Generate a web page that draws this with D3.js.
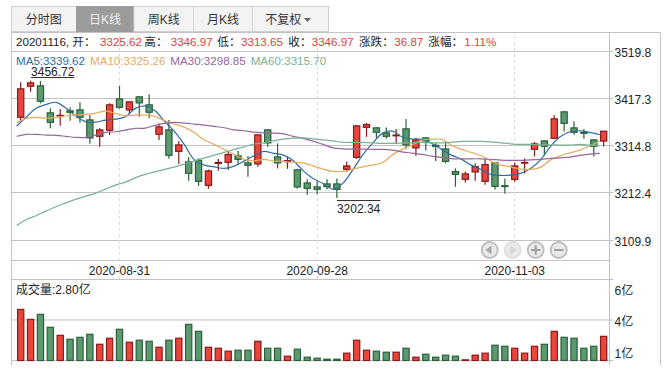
<!DOCTYPE html>
<html lang="zh-CN">
<head>
<meta charset="utf-8">
<script src="https://cdn.jsdelivr.net/npm/d3@7"></script>
<style>
  html, body { margin: 0; padding: 0; background: #fff; }
  svg { display: block; }
  text { font-family: 'Liberation Sans', 'Noto Sans CJK SC', sans-serif; font-size: 12px; }
  .small text { font-size: 11.6px; }
</style>
</head>
<body>
<div id="chart"></div>
<script>
// 60 trading days up to 2020-11-16
const dates = ['2020-08-17','2020-08-18','2020-08-19','2020-08-20','2020-08-21','2020-08-24','2020-08-25','2020-08-26','2020-08-27','2020-08-28',
  '2020-08-31','2020-09-01','2020-09-02','2020-09-03','2020-09-04','2020-09-07','2020-09-08','2020-09-09','2020-09-10','2020-09-11',
  '2020-09-14','2020-09-15','2020-09-16','2020-09-17','2020-09-18','2020-09-21','2020-09-22','2020-09-23','2020-09-24','2020-09-25',
  '2020-09-28','2020-09-29','2020-09-30','2020-10-09','2020-10-12','2020-10-13','2020-10-14','2020-10-15','2020-10-16','2020-10-19',
  '2020-10-20','2020-10-21','2020-10-22','2020-10-23','2020-10-26','2020-10-27','2020-10-28','2020-10-29','2020-10-30','2020-11-02',
  '2020-11-03','2020-11-04','2020-11-05','2020-11-06','2020-11-09','2020-11-10','2020-11-11','2020-11-12','2020-11-13','2020-11-16'];

const opens = [3377.2,3444.5,3445.3,3386.7,3379.8,3391,3393.2,3371.5,3335.9,3348.9,
  3417.1,3393.2,3421.4,3404.1,3340.3,3349.8,3303.3,3280.3,3283.8,3229.5,
  3277.1,3279.5,3293.4,3278.2,3276,3349.8,3291.2,3281,3263,3234.7,
  3226.1,3232.6,3232.6,3264.3,3290.3,3355.4,3354.1,3343.3,3337,3352,
  3310.7,3332.4,3316.2,3308.5,3259.3,3242.6,3258.6,3238.2,3278.2,3228.7,
  3242.6,3277.7,3307.7,3325.9,3331.6,3388.9,3354.1,3344.6,3328.1,3325.62];
const closes = [3438.8,3451.8,3411.9,3366.3,3381.3,3388,3377.2,3332.4,3349.8,3404.1,
  3398.9,3410.6,3408.4,3388,3356.3,3294.7,3317.2,3255.6,3238.2,3260.8,
  3279.2,3296.2,3286,3273,3339,3321.6,3278.2,3283.1,3226.1,3223,
  3220.9,3226.7,3220.9,3271.6,3358.5,3361.3,3344.6,3335.9,3338.5,3317.2,
  3328.1,3325.9,3314.2,3281.6,3253.4,3254.3,3270.1,3274.5,3227.4,3226.9,
  3271.6,3279.2,3319.4,3314.2,3373.7,3364.1,3344.6,3342.4,3314.2,3346.97];
const highs = [3452.9,3456.72,3455.7,3396.5,3395,3398.6,3409.5,3381.9,3353.1,3407.3,
  3444.9,3411.7,3422.5,3426.9,3363.9,3371.1,3325.5,3290.8,3287.9,3264,
  3286.4,3301.6,3303.8,3292.9,3340,3350.9,3320.5,3291.4,3265.4,3242.3,
  3238.6,3243,3244.5,3281.4,3360.2,3364.6,3355.9,3355.2,3351.5,3373.2,
  3332,3334.2,3321.1,3326.1,3266.2,3259.7,3277.1,3287.9,3279.2,3244.5,
  3279.2,3287.9,3323.3,3327,3381.3,3390,3368.3,3351.5,3329.2,3346.97];
const lows = [3371.1,3432.5,3407.3,3353.1,3358.7,3369.6,3365.2,3319.6,3313.1,3338.5,
  3395.6,3383.5,3378.2,3374.8,3327.7,3287.1,3275.6,3239.3,3228.4,3221.9,
  3261,3263.2,3273.4,3248,3269.7,3313.1,3266.2,3265.4,3221.9,3208.9,
  3210.4,3220.6,3202.34,3258.8,3286.4,3334.8,3332.6,3330.5,3319.6,3308.8,
  3293.6,3305.3,3282.1,3277.1,3226.3,3235.8,3239.3,3230.6,3220.6,3211.1,
  3237.1,3255.4,3292.3,3294.4,3330.5,3346.5,3339.2,3330.5,3292.3,3313.65];
// volume, in 亿
const volumes = [5.92,4.77,5.35,3.85,2.92,2.46,2.69,3.04,1.88,2.58,
  3.62,2.12,2.35,2.23,1.54,2.35,2.58,4.19,3.38,1.54,
  1.42,1.08,1.19,1.19,2.23,1.42,1.42,0.5,1.31,0.38,
  0.27,0.15,0.15,0.85,2.35,1.19,1.08,0.96,0.96,1.42,
  0.38,0.73,0.38,0.62,0.5,0.08,0.62,0.85,1.77,1.65,
  1.42,0.85,1.65,1.88,3.38,2.69,2.58,1.42,1.65,2.8];

const ma5 = [3358.1,3378.2,3397.1,3405.2,3409.5,3396.5,3379.8,3367.4,3366.7,3371.1,
  3373.2,3378.2,3396.5,3401.5,3391.3,3367.4,3345.7,3316.8,3284.2,3273.4,
  3269.7,3266.2,3271.2,3282.1,3293.6,3303.1,3298.8,3295.1,3282.7,3261,
  3244.5,3233.7,3221.3,3233.7,3262.5,3295.1,3320.5,3342.2,3347.2,3334.8,
  3329.8,3329.2,3320.5,3307.5,3295.1,3286.4,3273.4,3264,3253.2,3251,
  3251.7,3255.4,3266.2,3284.2,3313.1,3334.8,3345.7,3347.9,3344.4,3339.62];
const ma10 = [3365.2,3374.8,3376.9,3374.8,3376.9,3380.4,3381.9,3383.5,3386.3,3390.6,
  3385.6,3380.4,3381.9,3381.9,3379.1,3369.6,3362.4,3355.2,3343.5,3327.7,
  3318.3,3307.5,3296.6,3286.4,3282.7,3285.8,3282.1,3281.4,3279.2,3277.7,
  3271.9,3264.7,3259.7,3259.7,3264,3269.7,3273.4,3278.4,3295.1,3307.5,
  3316.8,3327.7,3329.2,3329.2,3316.8,3307.5,3300.9,3293.6,3282.1,3273.4,
  3269.7,3264.7,3264,3268.4,3284.2,3293.6,3300.1,3306,3315.3,3325.26];
const ma30 = [3335.7,3340,3340,3338.5,3337.9,3335.7,3333.5,3333.5,3338.5,3344.4,
  3345.7,3349.4,3353.1,3353.7,3359.6,3363.9,3366.1,3364.6,3362.4,3360.2,
  3357.4,3354.4,3350,3347.9,3345,3343.5,3342.9,3341.3,3335.7,3331.4,
  3325.5,3318.3,3310.9,3308.8,3308.1,3308.1,3307.5,3307.5,3306,3302.3,
  3299.4,3296.6,3292.9,3290.1,3287.5,3287.1,3287.1,3287.1,3285.8,3284.2,
  3283.6,3283.6,3284.9,3285.8,3287.9,3289.2,3290.8,3294.4,3297.3,3298.85];
const ma60 = [3142.5,3155.5,3164.2,3174.2,3183.7,3191.5,3199.6,3206.1,3212.6,3221.3,
  3230,3236.5,3245.8,3253.2,3258.8,3264,3269.7,3275.6,3282.7,3289.2,
  3295.1,3300.9,3307.5,3313.1,3319,3321.8,3326.1,3329.8,3332,3332.6,
  3330.5,3328.3,3326.1,3322.7,3322.7,3322.7,3321.8,3320.5,3320.5,3321.2,
  3321.8,3322.7,3321.8,3321.8,3322.7,3324.8,3324.8,3324.8,3324,3321.8,
  3319.6,3318.3,3318.3,3317.4,3317.4,3316.8,3316.8,3318.3,3316.8,3315.7];

const priceTicks = [3519.8, 3417.3, 3314.8, 3212.4, 3109.9];
const dateTicks = ['2020-08-31', '2020-09-28', '2020-11-03'];
// the labels on the volume axis are rounded by the source, so positions and text differ
const volGrid = [9.39, 4.7, 0];
const volTicks = [8.25, 4.7, 1];
const volLabels = ['6亿', '4亿', '1亿'];

const tabNames = ['分时图', '日K线', '周K线', '月K线', '不复权'];
const maNames = ['MA5', 'MA10', 'MA30', 'MA60'];
const maSeries = [ma5, ma10, ma30, ma60];
const highLabel = '3456.72';
const lowLabel = '3202.34';

const width = 671;
const height = 373;
const plot = { left: 11.5, right: 609.5, top: 32.5, bottom: 360.5 };

const RED = '#e8463c', RED_DARK = '#871a1a';
const GREEN = '#5b9a70', GREEN_DARK = '#2a5f38';
const GRID = '#c2c2c2';
const MA_COLORS = ['#2f6ca3', '#e6ac5e', '#97669f', '#79b193'];

const svg = d3.select('#chart')
  .append('svg')
  .attr('width', width)
  .attr('height', height);

// Scales
const x = d3.scaleBand()
  .domain(d3.range(dates.length))
  .range([15.76, 608.6])
  .paddingInner(0.37)
  .paddingOuter(0.185);
const center = i => x(i) + x.bandwidth() / 2;

const y = d3.scaleLinear()
  .domain([3109.9, 3519.8])
  .range([240.5, 51.5]);

const yVol = d3.scaleLinear()
  .domain([0, 9.39])
  .range([360.5, 279.5]);

// Tabs
const tabEdges = [11.5, 76, 134, 193.5, 252.5, 328.5];
const tabs = svg.append('g');
tabs.append('rect')
  .attr('x', 11.5).attr('y', 6.5)
  .attr('width', 317).attr('height', 25)
  .attr('fill', '#f3f3f3').attr('stroke', '#cfcfcf');
tabs.selectAll('.tab')
  .data(tabNames)
  .join('g')
  .attr('class', 'tab')
  .each(function (d, i) {
    const g = d3.select(this);
    const a = tabEdges[i], b = tabEdges[i + 1];
    if (i === 1) {
      g.append('rect').attr('x', a).attr('y', 6).attr('width', b - a).attr('height', 26).attr('fill', '#9b9b9b');
    } else if (i > 1) {
      g.append('line').attr('x1', a).attr('x2', a).attr('y1', 6).attr('y2', 32).attr('stroke', '#d4d4d4');
    }
    g.append('text')
      .attr('x', i === 4 ? 283.3 : (a + b) / 2)
      .attr('y', 24.3)
      .attr('text-anchor', 'middle')
      .attr('fill', i === 1 ? '#eeeeee' : '#333')
      .text(d);
  });
tabs.append('path').attr('d', 'M304 18L311 18L307.5 22Z').attr('fill', '#666');

// Frame
const frame = svg.append('g').attr('stroke', GRID).attr('fill', 'none');
frame.append('path').attr('d', `M${plot.left} 365V${plot.top}H660.5V365`);
frame.append('path').attr('d', `M${plot.right} ${plot.top}V365`);
frame.append('path').attr('d', `M${plot.left} 260.5H${plot.right}`);

// Price axis draws the horizontal grid as well
const gridLen = 613.5 - plot.left;
const axisStyle = g => {
  g.select('.domain').remove();
  g.selectAll('.tick line').attr('stroke', GRID);
  g.selectAll('.tick text').attr('fill', '#222').attr('font-size', 12).attr('font-family', null);
};
svg.append('g')
  .attr('transform', `translate(${plot.left},0)`)
  .call(d3.axisRight(y).tickValues(priceTicks).tickSize(gridLen).tickPadding(1).tickFormat(d3.format('.1f')))
  .call(axisStyle)
  .call(g => g.selectAll('.tick').attr('transform', d => `translate(0,${Math.floor(y(d) - 0.3) + 0.5})`))
  .call(g => g.selectAll('.tick text').attr('dy', '0.44em'));

// Volume grid and labels
svg.append('g')
  .attr('transform', `translate(${plot.left},0)`)
  .call(d3.axisRight(yVol).tickValues(volGrid).tickSize(gridLen).tickFormat(''))
  .call(axisStyle)
  .call(g => g.selectAll('.tick').attr('transform', d => `translate(0,${yVol(d)})`));
svg.append('g')
  .attr('transform', `translate(${plot.left},0)`)
  .call(d3.axisRight(yVol).tickValues(volTicks).tickSize(0).tickPadding(gridLen + 1).tickFormat((d, i) => volLabels[i]))
  .call(axisStyle)
  .call(g => g.selectAll('.tick text').attr('dy', '0.44em'));

// Date axis with the dashed verticals
svg.append('g')
  .attr('transform', 'translate(0,279)')
  .call(d3.axisBottom(x)
    .tickValues(dateTicks.map(d => dates.indexOf(d)))
    .tickSize(-(279 - plot.top))
    .tickFormat(i => dates[i]))
  .call(axisStyle)
  .call(g => g.selectAll('.tick line')
    .attr('stroke', '#dcdcdc')
    .attr('stroke-dasharray', '3,3')
    .attr('shape-rendering', 'crispEdges'))
  .call(g => g.selectAll('.tick text').attr('y', -12.5));

const rows = d3.range(dates.length);
const isUp = i => closes[i] >= opens[i];

// Candles
const candles = svg.append('g').attr('stroke-width', 1.2);
candles.selectAll('line')
  .data(rows)
  .join('line')
  .attr('x1', center).attr('x2', center)
  .attr('y1', i => y(highs[i]))
  .attr('y2', i => y(lows[i]))
  .attr('stroke', i => isUp(i) ? RED_DARK : GREEN_DARK);
candles.selectAll('rect')
  .data(rows)
  .join('rect')
  .attr('x', i => x(i))
  .attr('width', x.bandwidth())
  .attr('y', i => y(Math.max(opens[i], closes[i])))
  .attr('height', i => Math.abs(y(opens[i]) - y(closes[i])))
  .attr('fill', i => isUp(i) ? RED : GREEN)
  .attr('stroke', i => isUp(i) ? RED_DARK : GREEN_DARK);

// Moving averages, drawn 4px left of the candle centres as in the source
const maLine = d3.line()
  .x((d, i) => center(i) - 4)
  .y(d => y(d))
  .curve(d3.curveCatmullRom);
svg.append('g')
  .attr('fill', 'none')
  .attr('stroke-width', 1.2)
  .selectAll('path')
  .data(maSeries)
  .join('path')
  .attr('d', maLine)
  .attr('stroke', (d, i) => MA_COLORS[i]);

// High and low markers
const iHigh = highs.indexOf(d3.max(highs));
const iLow = lows.indexOf(d3.min(lows));
const marks = svg.append('g').attr('fill', '#222');
marks.append('text').attr('x', center(iHigh) + 0.5).attr('y', y(highs[iHigh]) - 4.2).text(highLabel);
marks.append('line')
  .attr('x1', center(iHigh) + 0.5).attr('x2', center(iHigh) + 43.5)
  .attr('y1', 77.5).attr('y2', 77.5)
  .attr('stroke', '#333');
marks.append('text').attr('x', center(iLow)).attr('y', y(lows[iLow]) + 15).text(lowLabel);
marks.append('line')
  .attr('x1', center(iLow)).attr('x2', center(iLow) + 43.5)
  .attr('y1', 200.5).attr('y2', 200.5)
  .attr('stroke', '#333');

// Volume bars
svg.append('g')
  .attr('stroke-width', 1.2)
  .selectAll('rect')
  .data(volumes)
  .join('rect')
  .attr('x', (d, i) => x(i))
  .attr('width', x.bandwidth())
  .attr('y', d => yVol(d))
  .attr('height', d => yVol(0) - yVol(d))
  .attr('fill', (d, i) => isUp(i) ? RED : GREEN)
  .attr('stroke', (d, i) => isUp(i) ? RED_DARK : GREEN_DARK);

// Info row
const infoText = ['20201116, 开：', '3325.62', '高：', '3346.97', '低：', '3313.65', '收：', '3346.97', '涨跌：', '36.87', '涨幅：', '1.11%'];
const infoX = [16, 100, 144.3, 170.7, 217.3, 241, 288.3, 311.7, 359, 394.3, 428.3, 464.3];
svg.append('g')
  .attr('class', 'small')
  .selectAll('text')
  .data(infoText)
  .join('text')
  .attr('x', (d, i) => infoX[i])
  .attr('y', 46.2)
  .attr('fill', (d, i) => i % 2 ? '#e8403a' : '#222')
  .text(d => d);

// MA legend
const legendX = [16, 90, 170.3, 250.7];
const lastValues = maSeries.map(s => s[s.length - 1].toFixed(2));
svg.append('g')
  .attr('class', 'small')
  .selectAll('text')
  .data(maNames)
  .join('text')
  .attr('x', (d, i) => legendX[i])
  .attr('y', 64.7)
  .attr('fill', (d, i) => MA_COLORS[i])
  .text((d, i) => `${d}:${lastValues[i]}`);

// Volume title
svg.append('text')
  .attr('x', 16).attr('y', 293.6)
  .attr('fill', '#222')
  .text(`成交量:${volumes[volumes.length - 1].toFixed(2)}亿`);

// Pan and zoom buttons
const buttons = svg.append('g');
const btnX = [489.7, 512.7, 535.7, 558.7];
buttons.selectAll('circle')
  .data(btnX)
  .join('circle')
  .attr('cx', d => d).attr('cy', 250).attr('r', 8)
  .attr('fill', '#e9e9e9')
  .attr('stroke', (d, i) => i === 1 ? '#dedede' : '#bdbdbd')
  .attr('stroke-width', 1.8);
buttons.append('path').attr('d', 'M485.5 250L491.5 245.5V254.5Z').attr('fill', '#a8a8a8');
buttons.append('path').attr('d', 'M516.5 250L510.5 245.5V254.5Z').attr('fill', '#d6d6d6');
buttons.append('path').attr('d', 'M531 250H540.4M535.7 245.3V254.7M554 250H563.4').attr('stroke', '#a0a0a0').attr('stroke-width', 2);
</script>
</body>
</html>
